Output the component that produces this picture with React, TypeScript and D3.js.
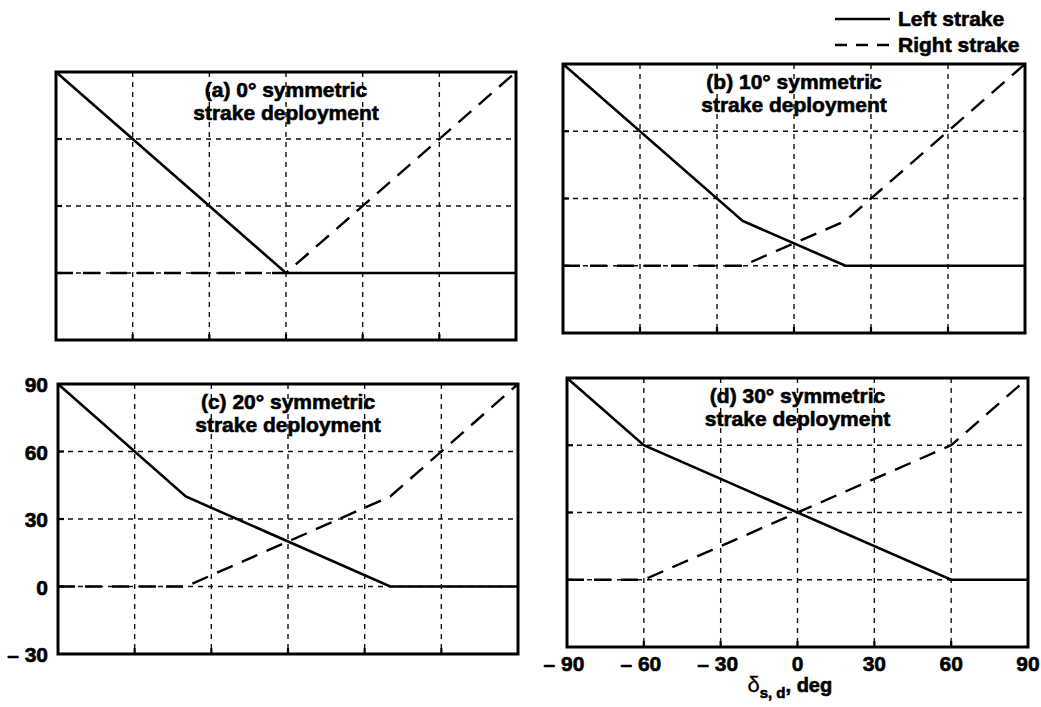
import React from "react";
import * as d3 from "d3";

type Pt = { x: number; y: number };

const xTicks = [-90, -60, -30, 0, 30, 60, 90];
const yTicks = [-30, 0, 30, 60, 90];
const xTickLabels = ["– 90", "– 60", "– 30", "0", "30", "60", "90"];
const yTickLabels = ["– 30", "0", "30", "60", "90"];

const titles = [
  ["(a) 0° symmetric", "strake deployment"],
  ["(b) 10° symmetric", "strake deployment"],
  ["(c) 20° symmetric", "strake deployment"],
  ["(d) 30° symmetric", "strake deployment"],
];

const leftA: Pt[] = [{ x: -90, y: 90 }, { x: 0, y: 0 }, { x: 90, y: 0 }];
const rightA: Pt[] = [{ x: -90, y: 0 }, { x: 0, y: 0 }, { x: 90, y: 90 }];
const leftB: Pt[] = [{ x: -90, y: 90 }, { x: -20, y: 20 }, { x: 20, y: 0 }, { x: 90, y: 0 }];
const rightB: Pt[] = [{ x: -90, y: 0 }, { x: -20, y: 0 }, { x: 20, y: 20 }, { x: 90, y: 90 }];
const leftC: Pt[] = [{ x: -90, y: 90 }, { x: -40, y: 40 }, { x: 40, y: 0 }, { x: 90, y: 0 }];
const rightC: Pt[] = [{ x: -90, y: 0 }, { x: -40, y: 0 }, { x: 40, y: 40 }, { x: 90, y: 90 }];
const leftD: Pt[] = [{ x: -90, y: 90 }, { x: -60, y: 60 }, { x: 60, y: 0 }, { x: 90, y: 0 }];
const rightD: Pt[] = [{ x: -90, y: 0 }, { x: -60, y: 0 }, { x: 60, y: 60 }, { x: 90, y: 90 }];

const leftSeries = [leftA, leftB, leftC, leftD];
const rightSeries = [rightA, rightB, rightC, rightD];

// panel frames (pixel boxes), slightly uneven like the scanned original
const boxes = [
  { x0: 56, x1: 516, y0: 72, y1: 340 },
  { x0: 563, x1: 1025, y0: 64, y1: 333 },
  { x0: 58, x1: 518, y0: 384, y1: 654 },
  { x0: 567, x1: 1028, y0: 378, y1: 647 },
];

const FONT = "'Liberation Sans', Arial, Helvetica, sans-serif";
// bold scanned lettering looks heavier; a thin outline thickens it
const heavy = { fontFamily: FONT, fontWeight: "bold" as const, stroke: "#000", strokeWidth: 0.6 };

const Panel: React.FC<{ i: number }> = ({ i }) => {
  const b = boxes[i];
  const x = d3.scaleLinear().domain([-90, 90]).range([b.x0, b.x1]);
  const y = d3.scaleLinear().domain([-30, 90]).range([b.y1, b.y0]);
  const line = d3
    .line<Pt>()
    .x((d) => x(d.x))
    .y((d) => y(d.y));
  const cx = (b.x0 + b.x1) / 2;

  return (
    <g>
      {/* grid */}
      {xTicks.slice(1, -1).map((t) => (
        <line key={"gx" + t} x1={x(t)} x2={x(t)} y1={b.y0} y2={b.y1}
          stroke="#111" strokeWidth={1.4} strokeDasharray="5,5" />
      ))}
      {yTicks.slice(1, -1).map((t) => (
        <line key={"gy" + t} x1={b.x0} x2={b.x1} y1={y(t)} y2={y(t)}
          stroke="#111" strokeWidth={1.4} strokeDasharray="5,5" />
      ))}
      {/* inward ticks */}
      {xTicks.slice(1, -1).map((t) => (
        <line key={"tx" + t} x1={x(t)} x2={x(t)} y1={b.y1} y2={b.y1 - 6}
          stroke="#000" strokeWidth={2.2} />
      ))}
      {yTicks.slice(1, -1).map((t) => (
        <line key={"ty" + t} x1={b.x0} x2={b.x0 + 6} y1={y(t)} y2={y(t)}
          stroke="#000" strokeWidth={2.2} />
      ))}
      {/* title */}
      <text x={cx} y={b.y0 + 25} textAnchor="middle" fontSize={21} {...heavy}>
        {titles[i][0]}
      </text>
      <text x={cx} y={b.y0 + 48} textAnchor="middle" fontSize={21} {...heavy}>
        {titles[i][1]}
      </text>
      {/* data */}
      <path d={line(rightSeries[i]) || ""} fill="none" stroke="#000" strokeWidth={2.4} strokeDasharray="17,10" />
      <path d={line(leftSeries[i]) || ""} fill="none" stroke="#000" strokeWidth={2.6} />
      {/* frame */}
      <rect x={b.x0} y={b.y0} width={b.x1 - b.x0} height={b.y1 - b.y0}
        fill="none" stroke="#000" strokeWidth={3} />
      {/* y tick labels on panel (c) */}
      {i === 2 &&
        yTicks.map((t, k) => (
          <text key={"yl" + t} x={b.x0 - 10} y={y(t) + 8} textAnchor="end" fontSize={21} {...heavy}>
            {yTickLabels[k]}
          </text>
        ))}
      {/* x tick labels on panel (d) */}
      {i === 3 && (
        <g>
          {xTicks.map((t, k) => (
            <text key={"xl" + t} x={x(t) - (t < 0 ? 3 : 0)} y={b.y1 + 24} textAnchor="middle"
              fontSize={21} {...heavy}>
              {xTickLabels[k]}
            </text>
          ))}
          <text x={x(-3)} y={b.y1 + 45} textAnchor="middle" fontSize={20} {...heavy}>
            <tspan fontWeight="normal" fontSize={22} strokeWidth={0.3}>δ</tspan>
            <tspan fontSize={15} dy={6}>s, d</tspan>
            <tspan dy={-6}>, deg</tspan>
          </text>
        </g>
      )}
    </g>
  );
};

const App: React.FC = () => {
  return (
    <div style={{ position: "absolute", left: 0, top: 0 }}>
      <svg width={1041} height={707} style={{ display: "block", background: "#fff" }}>
        {/* legend */}
        <line x1={835} x2={890} y1={19} y2={19} stroke="#000" strokeWidth={2.6} />
        <text x={898} y={26} fontSize={21} {...heavy}>Left strake</text>
        <line x1={835} x2={890} y1={45} y2={45} stroke="#000" strokeWidth={2.6} strokeDasharray="12,9" />
        <text x={898} y={52} fontSize={21} {...heavy}>Right strake</text>
        {[0, 1, 2, 3].map((i) => (
          <Panel key={i} i={i} />
        ))}
      </svg>
    </div>
  );
};

export default App;
